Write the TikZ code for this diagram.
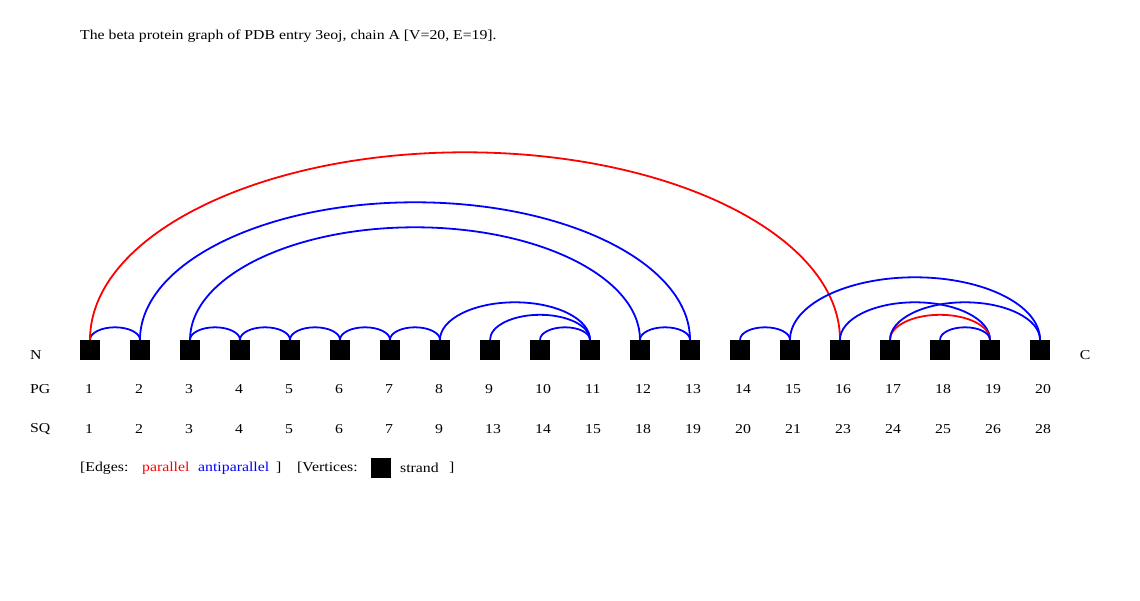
\documentclass[tikz,border=0pt]{standalone}
\usepackage{fontspec}
\setmainfont[FakeStretch=1.16]{Liberation Serif}
\usetikzlibrary{calc}
\tikzset{
	strand/.style={fill=black,minimum size=20pt,inner sep=0pt},
	para/.style={red,line width=1.8pt},
	anti/.style={blue,line width=1.8pt},
	lbl/.style={inner sep=0pt}
}
% half ellipse from the top of one strand to the top of another
\newcommand{\betaedge}[3]{\draw[#1] let \p1=(#2.north), \p2=(#3.north), \n1={(\x2-\x1)/2} in (\p1) arc[start angle=180,end angle=0,x radius=\n1,y radius=\n1/2];}
\begin{document}
\begin{tikzpicture}[x=1pt,y=1pt,font=\fontsize{13.6}{16}\selectfont]
	\useasboundingbox[fill=white](0,0)rectangle(1140,600);
	\node[lbl,anchor=west](title)at(80,564){The beta protein graph of PDB entry 3eoj, chain A [V=20, E=19].};
	% strands, PG and SQ numbers
	\foreach \i/\sq in {1/1,2/2,3/3,4/4,5/5,6/6,7/7,8/9,9/13,10/14,11/15,12/18,13/19,14/20,15/21,16/23,17/24,18/25,19/26,20/28}{
		\node[strand](v\i)at({40+50*\i},250){};
		\node[lbl,anchor=west](pg\i)at({35+50*\i},211){\i};
		\node[lbl,anchor=west](sq\i)at({35+50*\i},171){\sq};
	}
	\node[lbl,anchor=west](nterm)at(30,245){N};
	\node[lbl](cterm)at(1085,245){C};
	\node[lbl,anchor=west](pg)at(30,211){PG};
	\node[lbl,anchor=west](sq)at(30,171){SQ};
	% edges
	\betaedge{anti}{v1}{v2}
	\betaedge{para}{v1}{v16}
	\betaedge{anti}{v2}{v13}
	\betaedge{anti}{v3}{v4}
	\betaedge{anti}{v3}{v12}
	\betaedge{anti}{v4}{v5}
	\betaedge{anti}{v5}{v6}
	\betaedge{anti}{v6}{v7}
	\betaedge{anti}{v7}{v8}
	\betaedge{anti}{v8}{v11}
	\betaedge{anti}{v9}{v11}
	\betaedge{anti}{v10}{v11}
	\betaedge{anti}{v12}{v13}
	\betaedge{anti}{v14}{v15}
	\betaedge{anti}{v15}{v20}
	\betaedge{anti}{v16}{v19}
	\betaedge{para}{v17}{v19}
	\betaedge{anti}{v17}{v20}
	\betaedge{anti}{v18}{v19}
	% legend
	\node[lbl,anchor=west](edges)at(80,132){[Edges:};
	\node[lbl,anchor=west,red](lpar)at(142,132){parallel};
	\node[lbl,anchor=west,blue](lanti)at(198,132){antiparallel};
	\node[lbl,anchor=west](close1)at(276,132){]};
	\node[lbl,anchor=west](verts)at(297,132){[Vertices:};
	\node[strand](lstrand)at(381,132){};
	\node[lbl,anchor=west](lstr)at(400,132){strand};
	\node[lbl,anchor=west](close2)at(449,132){]};
\end{tikzpicture}
\end{document}
